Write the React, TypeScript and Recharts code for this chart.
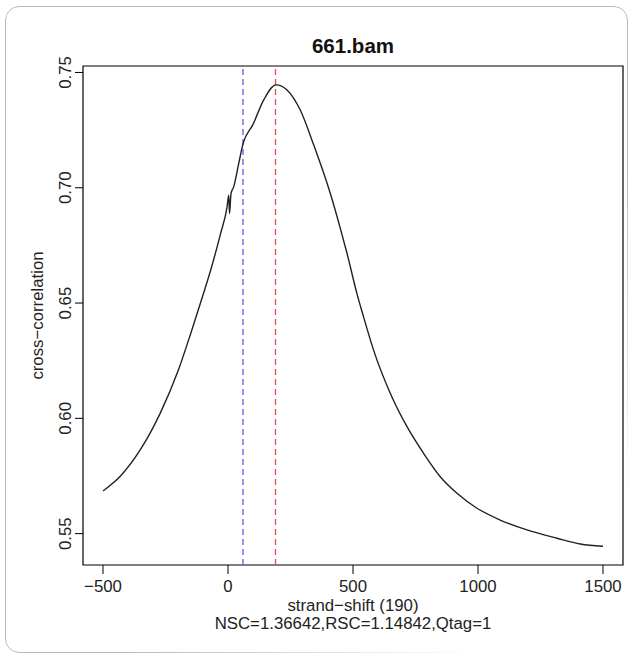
import React from 'react';
import {
  LineChart, Line, XAxis, YAxis, ReferenceLine, ReferenceArea, Label
} from 'recharts';

// strand shift (x) vs cross-correlation (y)
const shifts: number[] = [
  -500, -430, -350, -270, -200, -150, -100, -70, -30, -4, 3, 6, 12, 23, 43, 60,
  100, 143, 192, 236, 289, 343, 409, 449, 476, 516, 542, 582, 649, 716, 782,
  849, 916, 996, 1089, 1196, 1316, 1409, 1500,
];
const correlations: number[] = [
  0.5685, 0.5750, 0.5865, 0.6025, 0.6205, 0.6365, 0.6535, 0.6640, 0.6800,
  0.6915, 0.6968, 0.6888, 0.6975, 0.7005, 0.7106, 0.7190, 0.7275, 0.7381,
  0.7446, 0.7424, 0.7337, 0.7185, 0.6976, 0.6825, 0.6716, 0.6540, 0.6441,
  0.6297, 0.6109, 0.5964, 0.5849, 0.5747, 0.5675, 0.5610, 0.5559, 0.5516,
  0.5480, 0.5455, 0.5445,
];

const xTicks = [-500, 0, 500, 1000, 1500];
const yTicks = [0.55, 0.6, 0.65, 0.7, 0.75];

const phantomShift = 60; // blue dashed
const bestShift = 190; // red dashed

const title = '661.bam';
const xLabel = 'strand\u2212shift (190)';
const yLabel = 'cross\u2212correlation';
const subLabel = 'NSC=1.36642,RSC=1.14842,Qtag=1';

const xDomain: [number, number] = [-580, 1580];
const yDomain: [number, number] = [0.5364, 0.7528];

const FONT = '"Liberation Sans", Arial, sans-serif';
const FS = 16.8;

const data = shifts.map((s, i) => ({ shift: s, cc: correlations[i] }));

const YTick = (props: any) => {
  const { x, y, payload } = props;
  return (
    <text
      x={x}
      y={y}
      transform={`rotate(-90, ${x}, ${y})`}
      textAnchor="middle"
      fontFamily={FONT}
      fontSize={FS}
      fill="#222"
    >
      {payload.value.toFixed(2)}
    </text>
  );
};

const App: React.FC = () => {
  return (
    <div style={{ position: 'absolute', left: 0, top: 0, width: 634, height: 659, background: '#fff' }}>
      <div
        style={{
          position: 'absolute', left: 5, top: 6, width: 621, height: 645,
          border: '1.3px solid #b8b8b8', borderRadius: 14,
          WebkitMaskImage: 'linear-gradient(135deg, #000 60%, transparent 88%)',
          maskImage: 'linear-gradient(135deg, #000 60%, transparent 88%)',
        }}
      />
      <div style={{ position: 'absolute', left: 0, top: 0 }}>
        <LineChart
          width={634}
          height={659}
          data={data}
          margin={{ top: 66, right: 11, bottom: 0, left: 0 }}
        >
          <XAxis
            dataKey="shift"
            type="number"
            domain={xDomain}
            ticks={xTicks}
            allowDataOverflow
            axisLine={false}
            tickLine={{ stroke: '#000' }}
            tickSize={9}
            tickMargin={6}
            height={94}
            tick={{ fontFamily: FONT, fontSize: FS, fill: '#222' }}
            tickFormatter={(v: number) => (v < 0 ? `\u2212${Math.abs(v)}` : `${v}`)}
          >
            <Label
              content={(p: any) => {
                const vb = p.viewBox;
                return (
                  <text x={vb.x + vb.width / 2} y={vb.y + 46} textAnchor="middle"
                    fontFamily={FONT} fontSize={FS} fill="#222">{xLabel}</text>
                );
              }}
            />
          </XAxis>
          <YAxis
            type="number"
            domain={yDomain}
            ticks={yTicks}
            allowDataOverflow
            axisLine={false}
            tickLine={{ stroke: '#000' }}
            tickSize={8}
            tickMargin={3.5}
            width={83}
            tick={<YTick />}
          >
            <Label
              content={(p: any) => {
                const vb = p.viewBox;
                const cy = vb.y + vb.height / 2;
                return (
                  <text x={42.7} y={cy} transform={`rotate(-90, 42.7, ${cy})`} textAnchor="middle"
                    fontFamily={FONT} fontSize={FS} fill="#222">{yLabel}</text>
                );
              }}
            />
          </YAxis>
          <ReferenceArea
            x1={xDomain[0]} x2={xDomain[1]} y1={yDomain[0]} y2={yDomain[1]}
            fill="none" stroke="#000" strokeWidth={1.2} fillOpacity={0}
          />
          <ReferenceLine x={phantomShift} stroke="#5b5be8" strokeWidth={1.3} strokeDasharray="6 4" />
          <ReferenceLine x={bestShift} stroke="#e8485a" strokeWidth={1.3} strokeDasharray="6 4" />
          <Line
            type="monotone"
            dataKey="cc"
            stroke="#222"
            strokeWidth={1.4}
            dot={false}
            activeDot={false}
            isAnimationActive={false}
          />
        </LineChart>
      </div>
      <svg width={634} height={659} style={{ position: 'absolute', left: 0, top: 0, pointerEvents: 'none' }}>
        <text x={353} y={53} textAnchor="middle" fontFamily={FONT} fontSize={20.5} fontWeight="bold" fill="#111">
          {title}
        </text>
        <text x={353} y={629} textAnchor="middle" fontFamily={FONT} fontSize={FS} fill="#222">
          {subLabel}
        </text>
      </svg>
    </div>
  );
};

export default App;
